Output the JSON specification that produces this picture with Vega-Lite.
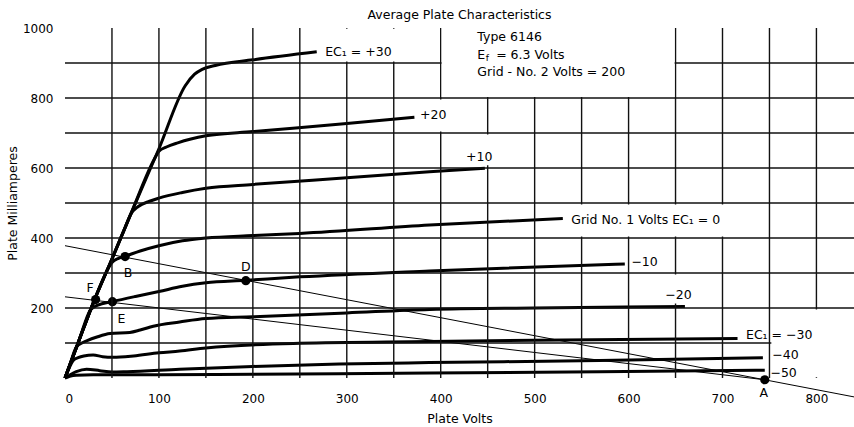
{
  "$schema": "https://vega.github.io/schema/vega-lite/v6.json",
  "autosize": {"type": "none"},
  "padding": {"left": 65, "top": 28, "right": 0, "bottom": 49},
  "width": 789,
  "height": 350,
  "background": "white",
  "title": {"text": "Average Plate Characteristics", "font": "DejaVu Sans", "fontSize": 12.5, "fontWeight": "normal", "color": "black", "anchor": "middle", "offset": 1},
  "config": {
    "view": {"stroke": null}
  },
  "datasets": {
    "curves": [
      {"c": "+30", "V": 0, "I": 0}, {"c": "+30", "V": 15, "I": 108}, {"c": "+30", "V": 30, "I": 214}, {"c": "+30", "V": 50, "I": 340}, {"c": "+30", "V": 70, "I": 468}, {"c": "+30", "V": 100, "I": 655}, {"c": "+30", "V": 128, "I": 835}, {"c": "+30", "V": 138, "I": 868}, {"c": "+30", "V": 146, "I": 882}, {"c": "+30", "V": 160, "I": 893}, {"c": "+30", "V": 200, "I": 909}, {"c": "+30", "V": 268, "I": 932},
      {"c": "+20", "V": 0, "I": 0}, {"c": "+20", "V": 15, "I": 108}, {"c": "+20", "V": 30, "I": 214}, {"c": "+20", "V": 50, "I": 340}, {"c": "+20", "V": 70, "I": 468}, {"c": "+20", "V": 95, "I": 625}, {"c": "+20", "V": 100, "I": 648}, {"c": "+20", "V": 108, "I": 660}, {"c": "+20", "V": 120, "I": 672}, {"c": "+20", "V": 150, "I": 692}, {"c": "+20", "V": 200, "I": 704}, {"c": "+20", "V": 300, "I": 727}, {"c": "+20", "V": 372, "I": 745},
      {"c": "+10", "V": 0, "I": 0}, {"c": "+10", "V": 15, "I": 108}, {"c": "+10", "V": 30, "I": 214}, {"c": "+10", "V": 50, "I": 340}, {"c": "+10", "V": 64, "I": 430}, {"c": "+10", "V": 70, "I": 468}, {"c": "+10", "V": 78, "I": 490}, {"c": "+10", "V": 90, "I": 505}, {"c": "+10", "V": 100, "I": 514}, {"c": "+10", "V": 125, "I": 530}, {"c": "+10", "V": 150, "I": 542}, {"c": "+10", "V": 200, "I": 553}, {"c": "+10", "V": 300, "I": 572}, {"c": "+10", "V": 388, "I": 589}, {"c": "+10", "V": 447, "I": 599},
      {"c": "0", "V": 0, "I": 0}, {"c": "0", "V": 15, "I": 108}, {"c": "0", "V": 30, "I": 214}, {"c": "0", "V": 45, "I": 308}, {"c": "0", "V": 50, "I": 330}, {"c": "0", "V": 57, "I": 342}, {"c": "0", "V": 64, "I": 348}, {"c": "0", "V": 80, "I": 363}, {"c": "0", "V": 100, "I": 378}, {"c": "0", "V": 125, "I": 392}, {"c": "0", "V": 150, "I": 400}, {"c": "0", "V": 200, "I": 407}, {"c": "0", "V": 250, "I": 413}, {"c": "0", "V": 388, "I": 437}, {"c": "0", "V": 530, "I": 456},
      {"c": "-10", "V": 0, "I": 0}, {"c": "-10", "V": 15, "I": 108}, {"c": "-10", "V": 27, "I": 194}, {"c": "-10", "V": 35, "I": 208}, {"c": "-10", "V": 50, "I": 218}, {"c": "-10", "V": 75, "I": 233}, {"c": "-10", "V": 100, "I": 247}, {"c": "-10", "V": 125, "I": 262}, {"c": "-10", "V": 150, "I": 272}, {"c": "-10", "V": 192, "I": 279}, {"c": "-10", "V": 250, "I": 289}, {"c": "-10", "V": 388, "I": 306}, {"c": "-10", "V": 596, "I": 326},
      {"c": "-20", "V": 0, "I": 0}, {"c": "-20", "V": 6, "I": 45}, {"c": "-20", "V": 12, "I": 88}, {"c": "-20", "V": 18, "I": 100}, {"c": "-20", "V": 23, "I": 106}, {"c": "-20", "V": 34, "I": 117}, {"c": "-20", "V": 48, "I": 127}, {"c": "-20", "V": 69, "I": 130}, {"c": "-20", "V": 80, "I": 137}, {"c": "-20", "V": 94, "I": 148}, {"c": "-20", "V": 122, "I": 160}, {"c": "-20", "V": 150, "I": 170}, {"c": "-20", "V": 200, "I": 175}, {"c": "-20", "V": 300, "I": 186}, {"c": "-20", "V": 388, "I": 196}, {"c": "-20", "V": 500, "I": 200}, {"c": "-20", "V": 660, "I": 204},
      {"c": "-30", "V": 0, "I": 0}, {"c": "-30", "V": 5, "I": 32}, {"c": "-30", "V": 9, "I": 51}, {"c": "-30", "V": 14, "I": 58}, {"c": "-30", "V": 20, "I": 63}, {"c": "-30", "V": 30, "I": 66}, {"c": "-30", "V": 40, "I": 61}, {"c": "-30", "V": 51, "I": 59}, {"c": "-30", "V": 73, "I": 63}, {"c": "-30", "V": 100, "I": 72}, {"c": "-30", "V": 122, "I": 77}, {"c": "-30", "V": 150, "I": 86}, {"c": "-30", "V": 250, "I": 99}, {"c": "-30", "V": 388, "I": 104}, {"c": "-30", "V": 500, "I": 108}, {"c": "-30", "V": 716, "I": 113},
      {"c": "-40", "V": 0, "I": 0}, {"c": "-40", "V": 6, "I": 10}, {"c": "-40", "V": 12, "I": 18}, {"c": "-40", "V": 23, "I": 25}, {"c": "-40", "V": 37, "I": 21}, {"c": "-40", "V": 50, "I": 17}, {"c": "-40", "V": 66, "I": 18}, {"c": "-40", "V": 122, "I": 25}, {"c": "-40", "V": 200, "I": 33}, {"c": "-40", "V": 292, "I": 40}, {"c": "-40", "V": 388, "I": 44}, {"c": "-40", "V": 569, "I": 50}, {"c": "-40", "V": 743, "I": 58},
      {"c": "-50", "V": 0, "I": 0}, {"c": "-50", "V": 5, "I": 5}, {"c": "-50", "V": 12, "I": 8}, {"c": "-50", "V": 30, "I": 9}, {"c": "-50", "V": 100, "I": 9}, {"c": "-50", "V": 200, "I": 11}, {"c": "-50", "V": 388, "I": 14}, {"c": "-50", "V": 569, "I": 18}, {"c": "-50", "V": 745, "I": 22}
    ],
    "vgrid": [
      {"V": 50}, {"V": 100}, {"V": 150}, {"V": 200}, {"V": 250}, {"V": 300}, {"V": 350}, {"V": 400},
      {"V": 450}, {"V": 500}, {"V": 550}, {"V": 600}, {"V": 650}, {"V": 700}, {"V": 750}, {"V": 800}
    ],
    "hgrid": [
      {"I": 100}, {"I": 200}, {"I": 300}, {"I": 400}, {"I": 500}, {"I": 600}, {"I": 700}, {"I": 800}, {"I": 900}
    ],
    "blanks": [
      {"V": 401, "V2": 649, "I": 803, "I2": 1000},
      {"V": 272, "V2": 399, "I": 904, "I2": 998},
      {"V": 377, "V2": 412, "I": 704, "I2": 796},
      {"V": 422, "V2": 460, "I": 608, "I2": 696},
      {"V": 535, "V2": 720, "I": 404, "I2": 496},
      {"V": 634, "V2": 672, "I": 213, "I2": 296},
      {"V": 752, "V2": 840, "I": 2, "I2": 196}
    ],
    "loadlines": [
      {"l": "1", "V": 0, "I": 378}, {"l": "1", "V": 840, "I": -54},
      {"l": "2", "V": 0, "I": 232}, {"l": "2", "V": 745, "I": -5}
    ],
    "points": [
      {"p": "A", "V": 745, "I": -5}, {"p": "B", "V": 64, "I": 347}, {"p": "D", "V": 192.5, "I": 278}, {"p": "E", "V": 50.5, "I": 218}, {"p": "F", "V": 32.6, "I": 224}
    ],
    "pointlabels": [
      {"t": "A", "V": 744, "I": -42}, {"t": "B", "V": 67, "I": 301}, {"t": "D", "V": 192.5, "I": 318}, {"t": "E", "V": 60, "I": 168}, {"t": "F", "V": 26.6, "I": 256}
    ],
    "curvelabels": [
      {"t": "EC₁ = +30", "V": 277, "I": 932},
      {"t": "+20", "V": 378, "I": 751},
      {"t": "+10", "V": 427, "I": 632},
      {"t": "Grid No. 1 Volts EC₁ = 0", "V": 539, "I": 451},
      {"t": "−10", "V": 603, "I": 332},
      {"t": "−20", "V": 639, "I": 237},
      {"t": "EC₁ = −30", "V": 725, "I": 123},
      {"t": "−40", "V": 753, "I": 66},
      {"t": "−50", "V": 751, "I": 13},
      {"t": "Type 6146", "V": 439, "I": 974},
      {"t": "E", "V": 439, "I": 923},
      {"t": "= 6.3 Volts", "V": 459, "I": 923},
      {"t": "Grid - No. 2 Volts = 200", "V": 439, "I": 874}
    ],
    "subs": [
      {"t": "f", "V": 448, "I": 915}
    ]
  },
  "layer": [
    {
      "data": {"name": "curves"},
      "mark": {"type": "line", "color": "black", "strokeWidth": 3, "interpolate": "monotone", "strokeCap": "butt"},
      "encoding": {
        "x": {"field": "V", "type": "quantitative", "scale": {"domain": [0, 840], "nice": false, "zero": false},
          "axis": {"title": "Plate Volts", "values": [0, 100, 200, 300, 400, 500, 600, 700, 800], "format": "d",
            "domain": false, "ticks": false, "grid": false,
            "labelFont": "DejaVu Sans", "labelFontSize": 12, "labelColor": "black", "labelPadding": 15,
            "titleFont": "DejaVu Sans", "titleFontSize": 12.5, "titleFontWeight": "normal", "titleColor": "black", "titlePadding": 8}},
        "y": {"field": "I", "type": "quantitative", "scale": {"domain": [0, 1000], "nice": false, "zero": false},
          "axis": {"title": "Plate Milliamperes", "values": [200, 400, 600, 800, 1000], "format": "d",
            "domain": false, "ticks": false, "grid": false,
            "labelFont": "DejaVu Sans", "labelFontSize": 12, "labelColor": "black", "labelPadding": 12,
            "titleFont": "DejaVu Sans", "titleFontSize": 12.5, "titleFontWeight": "normal", "titleColor": "black", "titlePadding": 3}},
        "detail": {"field": "c"}
      }
    },
    {
      "data": {"name": "loadlines"},
      "mark": {"type": "line", "color": "black", "strokeWidth": 1},
      "encoding": {
        "x": {"field": "V", "type": "quantitative"},
        "y": {"field": "I", "type": "quantitative"},
        "detail": {"field": "l"}
      }
    },
    {
      "data": {"name": "points"},
      "mark": {"type": "circle", "color": "black", "opacity": 1, "size": 85},
      "encoding": {
        "x": {"field": "V", "type": "quantitative"},
        "y": {"field": "I", "type": "quantitative"}
      }
    },
    {
      "data": {"name": "vgrid"},
      "mark": {"type": "rule", "color": "#111111", "strokeWidth": 1.4, "opacity": 1},
      "encoding": {"x": {"field": "V", "type": "quantitative"}}
    },
    {
      "data": {"name": "hgrid"},
      "mark": {"type": "rule", "color": "#111111", "strokeWidth": 1.4, "opacity": 1},
      "encoding": {"y": {"field": "I", "type": "quantitative"}}
    },
    {
      "data": {"name": "blanks"},
      "mark": {"type": "rect", "fill": "white", "stroke": null},
      "encoding": {
        "x": {"field": "V", "type": "quantitative"},
        "x2": {"field": "V2"},
        "y": {"field": "I", "type": "quantitative"},
        "y2": {"field": "I2"}
      }
    },
    {
      "mark": {"type": "rule", "color": "black", "strokeWidth": 2.5},
      "encoding": {"x": {"datum": 0, "type": "quantitative"}}
    },
    {
      "mark": {"type": "rule", "color": "black", "strokeWidth": 2.5},
      "encoding": {"y": {"datum": 0, "type": "quantitative"}}
    },
    {
      "mark": {"type": "rule", "color": "black", "strokeWidth": 2},
      "encoding": {"y": {"datum": 1000, "type": "quantitative"}}
    },
    {
      "data": {"name": "pointlabels"},
      "mark": {"type": "text", "align": "center", "baseline": "middle", "font": "DejaVu Sans", "fontSize": 12.5, "color": "black"},
      "encoding": {
        "x": {"field": "V", "type": "quantitative"},
        "y": {"field": "I", "type": "quantitative"},
        "text": {"field": "t"}
      }
    },
    {
      "data": {"name": "curvelabels"},
      "mark": {"type": "text", "align": "left", "baseline": "middle", "font": "DejaVu Sans", "fontSize": 12.5, "color": "black"},
      "encoding": {
        "x": {"field": "V", "type": "quantitative"},
        "y": {"field": "I", "type": "quantitative"},
        "text": {"field": "t"}
      }
    },
    {
      "data": {"name": "subs"},
      "mark": {"type": "text", "align": "left", "baseline": "middle", "font": "DejaVu Sans", "fontSize": 9, "color": "black"},
      "encoding": {
        "x": {"field": "V", "type": "quantitative"},
        "y": {"field": "I", "type": "quantitative"},
        "text": {"field": "t"}
      }
    }
  ]
}
